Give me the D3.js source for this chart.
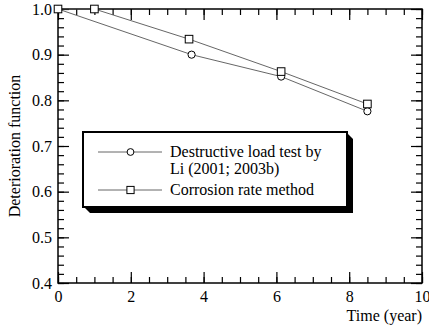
<!DOCTYPE html>
<html>
<head>
<meta charset="utf-8">
<script src="https://cdn.jsdelivr.net/npm/d3@7"></script>
<style>
  body { margin: 0; background: #fff; }
  text { font-family: "Liberation Serif", "Times New Roman", serif; }
</style>
</head>
<body>
<div id="chart"></div>
<script>
// data
var loadTestYears = [0, 3.67, 6.13, 8.5];
var loadTestValues = [1.0, 0.9, 0.852, 0.776];
var corrosionYears = [0, 1.0, 3.6, 6.13, 8.5];
var corrosionValues = [1.0, 1.0, 0.934, 0.863, 0.792];
var xMajorTicks = [0, 2, 4, 6, 8, 10];
var yMajorTicks = [0.4, 0.5, 0.6, 0.7, 0.8, 0.9, 1.0];
var legendLabels = [["Destructive load test by", "Li (2001; 2003b)"], ["Corrosion rate method"]];

var loadTest = loadTestYears.map(function (d, i) { return {x: d, y: loadTestValues[i]}; });
var corrosion = corrosionYears.map(function (d, i) { return {x: d, y: corrosionValues[i]}; });

var margin = {top: 9, right: 7, bottom: 49, left: 58};
var width = 429 - margin.left - margin.right;
var height = 332 - margin.top - margin.bottom;

var svg = d3.select("#chart").append("svg")
    .attr("width", 429)
    .attr("height", 332);

var g = svg.append("g")
    .attr("transform", "translate(" + margin.left + "," + margin.top + ")");

var x = d3.scaleLinear().domain([0, 10]).range([0, width]);
var y = d3.scaleLinear().domain([0.4, 1.0]).range([height, 0]);

var xMinor = d3.range(0, 10.001, 0.5).map(function (d) { return +d.toFixed(2); });
var yMinor = d3.range(0.4, 1.0001, 0.02).map(function (d) { return +d.toFixed(2); });

function styleAxis(sel) {
    sel.select(".domain").remove();
    sel.selectAll("line").attr("stroke", "#000").attr("stroke-width", 1.2);
    sel.selectAll("text")
        .attr("fill", "#000")
        .style("font-size", "16px")
        .style("font-family", "'Liberation Serif', serif");
}

// bottom
g.append("g").attr("transform", "translate(0," + height + ")")
    .call(d3.axisBottom(x).tickValues(xMinor).tickSize(-6).tickFormat("")).call(styleAxis);
g.append("g").attr("transform", "translate(0," + height + ")")
    .call(d3.axisBottom(x).tickValues(xMajorTicks).tickSize(-11).tickPadding(8).tickFormat(d3.format("d"))).call(styleAxis);
// top
g.append("g")
    .call(d3.axisTop(x).tickValues(xMinor).tickSize(-6).tickFormat("")).call(styleAxis);
g.append("g")
    .call(d3.axisTop(x).tickValues(xMajorTicks).tickSize(-11).tickFormat("")).call(styleAxis);
// left
g.append("g")
    .call(d3.axisLeft(y).tickValues(yMinor).tickSize(-6).tickFormat("")).call(styleAxis);
g.append("g")
    .call(d3.axisLeft(y).tickValues(yMajorTicks).tickSize(-11).tickPadding(6).tickFormat(d3.format(".1f"))).call(styleAxis);
// right
g.append("g").attr("transform", "translate(" + width + ",0)")
    .call(d3.axisRight(y).tickValues(yMinor).tickSize(-6).tickFormat("")).call(styleAxis);
g.append("g").attr("transform", "translate(" + width + ",0)")
    .call(d3.axisRight(y).tickValues(yMajorTicks).tickSize(-11).tickFormat("")).call(styleAxis);

// frame
g.append("rect")
    .attr("width", width)
    .attr("height", height)
    .attr("fill", "none")
    .attr("stroke", "#000")
    .attr("stroke-width", 1.5);

// axis titles
svg.append("text")
    .attr("transform", "translate(20," + (margin.top + height / 2) + ") rotate(-90)")
    .attr("text-anchor", "middle")
    .style("font-size", "16px")
    .text("Deterioration function");

svg.append("text")
    .attr("x", 422)
    .attr("y", 321)
    .attr("text-anchor", "end")
    .style("font-size", "16px")
    .text("Time (year)");

// lines
var line = d3.line()
    .x(function (d) { return x(d.x); })
    .y(function (d) { return y(d.y); });

g.append("path")
    .data([loadTest])
    .attr("d", line)
    .attr("fill", "none")
    .attr("stroke", "#555")
    .attr("stroke-width", 0.9);

g.append("path")
    .data([corrosion])
    .attr("d", line)
    .attr("fill", "none")
    .attr("stroke", "#555")
    .attr("stroke-width", 0.9);

g.selectAll(".circ")
    .data(loadTest)
    .enter().append("circle")
    .attr("class", "circ")
    .attr("cx", function (d) { return x(d.x); })
    .attr("cy", function (d) { return y(d.y); })
    .attr("r", 3.6)
    .attr("fill", "#fff")
    .attr("stroke", "#000")
    .attr("stroke-width", 1);

g.selectAll(".sq")
    .data(corrosion)
    .enter().append("rect")
    .attr("class", "sq")
    .attr("x", function (d) { return x(d.x) - 3.8; })
    .attr("y", function (d) { return y(d.y) - 3.8; })
    .attr("width", 7.6)
    .attr("height", 7.6)
    .attr("fill", "#fff")
    .attr("stroke", "#000")
    .attr("stroke-width", 1);

// legend
var lg = svg.append("g").attr("transform", "translate(83,132)");
var lw = 264, lh = 75, sh = 6;

// drop shadow with slanted corners
lg.append("polygon")
    .attr("points", [[lw, 1], [lw + sh, 1 + sh], [lw + sh, lh + sh], [1 + sh, lh + sh], [1, lh]].join(" "))
    .attr("fill", "#000");
lg.append("rect")
    .attr("width", lw).attr("height", lh)
    .attr("fill", "#fff")
    .attr("stroke", "#000")
    .attr("stroke-width", 2);

var rowY = [20, 58];
lg.selectAll(".lgline")
    .data(rowY)
    .enter().append("line")
    .attr("x1", 15).attr("x2", 79)
    .attr("y1", function (d) { return d; })
    .attr("y2", function (d) { return d; })
    .attr("stroke", "#555")
    .attr("stroke-width", 0.9);

lg.append("circle")
    .attr("cx", 47.5).attr("cy", rowY[0]).attr("r", 3.4)
    .attr("fill", "#fff").attr("stroke", "#000");
lg.append("rect")
    .attr("x", 47.5 - 3.6).attr("y", rowY[1] - 3.6)
    .attr("width", 7.2).attr("height", 7.2)
    .attr("fill", "#fff").attr("stroke", "#000");

legendLabels.forEach(function (lines, i) {
    lines.forEach(function (t, j) {
        lg.append("text")
            .attr("x", 87)
            .attr("y", rowY[i] + 5 + j * 17)
            .style("font-size", "16px")
            .text(t);
    });
});
</script>
</body>
</html>
